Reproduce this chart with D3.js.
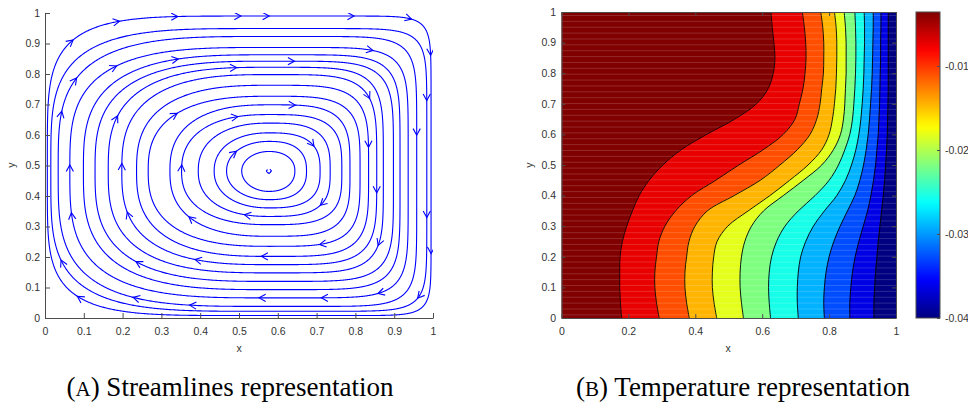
<!DOCTYPE html>
<html><head><meta charset="utf-8">
<script src="https://cdn.jsdelivr.net/npm/d3@7"></script>
<style>
html,body{margin:0;padding:0;background:#fff;}
svg{display:block;}
.tick text,.lbl{font-family:"Liberation Sans",Arial,Helvetica,sans-serif;font-size:10.5px;fill:#333;}
.cap{font-family:"Liberation Serif","Times New Roman",serif;fill:#000;}
</style></head><body>
<svg id="fig" width="968" height="407"></svg>
<script>
// ---------- Panel A: streamlines of the cavity vortex ----------
// Each closed streamline is described by where it crosses the horizontal
// and vertical lines through the vortex core.
const vortexCore = [0.577, 0.482];
const loopLeft   = [0.507, 0.468, 0.436, 0.395, 0.352, 0.322, 0.266, 0.236, 0.198, 0.163, 0.129, 0.099, 0.064, 0.034, 0.015, 0.006];
const loopRight  = [0.644, 0.674, 0.709, 0.735, 0.765, 0.786, 0.812, 0.834, 0.855, 0.872, 0.898, 0.915, 0.936, 0.958, 0.984, 0.995];
const loopTop    = [0.546, 0.579, 0.607, 0.639, 0.667, 0.699, 0.727, 0.763, 0.798, 0.822, 0.842, 0.863, 0.887, 0.923, 0.949, 0.990];
const loopBottom = [0.415, 0.388, 0.361, 0.333, 0.306, 0.268, 0.235, 0.202, 0.175, 0.148, 0.120, 0.093, 0.066, 0.038, 0.022, 0.008];
// corner sharpness of each loop on its west (left) and east (right) halves
const loopSquarenessWest = [2.0, 2.1, 2.2, 2.3, 2.4, 2.5, 2.6, 2.7, 2.8, 2.9, 3.0, 3.1, 3.3, 3.5, 3.9, 4.8];
const loopSquarenessEast = [2.2, 2.5, 2.8, 3.1, 3.4, 3.7, 4.0, 4.3, 4.6, 5.0, 5.4, 5.9, 6.5, 7.5, 9.0, 12.0];

// Flow-direction arrowheads (approximate positions along the streamlines)
const arrowX = [0.043,0.193,0.343,0.495,0.639,0.794,0.946,0.992,
                0.072,0.188,0.343,0.495,0.639,0.843,
                0.052,0.198,0.343,0.495,0.644,0.830,0.979,
                0.064,0.201,0.353,0.495,0.691,0.830,0.985,
                0.064,0.206,0.379,0.515,0.704,0.851,0.992,
                0.052,0.240,0.387,0.559,0.709,0.856,0.992,
                0.072,0.227,0.374,0.559,0.709,0.858,0.966];
const arrowY = [0.957,0.977,0.993,0.997,0.997,0.997,0.987,0.862,
                0.797,0.820,0.843,0.816,0.836,0.862,
                0.675,0.656,0.666,0.672,0.698,0.715,0.715,
                0.492,0.508,0.502,0.544,0.561,0.561,0.561,
                0.344,0.344,0.344,0.348,0.377,0.413,0.364,
                0.197,0.197,0.197,0.200,0.233,0.239,0.213,
                0.049,0.072,0.049,0.066,0.075,0.082,0.059];

const axisTicksA = [0,0.1,0.2,0.3,0.4,0.5,0.6,0.7,0.8,0.9,1];

// ---------- Panel B: temperature field ----------
// Isotherm positions x(y), sampled every 0.05 in y (from left/hot to right/cold)
const contourY  = [0,0.05,0.1,0.15,0.2,0.25,0.3,0.35,0.4,0.45,0.5,0.55,0.6,0.65,0.7,0.75,0.8,0.85,0.9,0.95,1];
const contour1  = [0.180,0.176,0.174,0.174,0.175,0.182,0.195,0.212,0.232,0.262,0.303,0.358,0.434,0.518,0.583,0.618,0.633,0.638,0.635,0.630,0.626];
const contour2  = [0.292,0.284,0.279,0.279,0.284,0.291,0.309,0.341,0.389,0.461,0.530,0.603,0.663,0.698,0.711,0.722,0.728,0.731,0.730,0.726,0.720];
const contour3  = [0.382,0.374,0.369,0.369,0.374,0.381,0.399,0.436,0.516,0.594,0.653,0.705,0.743,0.763,0.773,0.778,0.783,0.784,0.784,0.781,0.775];
const contour4  = [0.464,0.456,0.451,0.451,0.455,0.465,0.497,0.558,0.623,0.682,0.737,0.778,0.800,0.810,0.816,0.820,0.822,0.823,0.823,0.821,0.816];
const contour5  = [0.544,0.538,0.534,0.534,0.538,0.548,0.568,0.604,0.663,0.723,0.778,0.813,0.834,0.843,0.847,0.849,0.851,0.851,0.851,0.849,0.845];
const contour6  = [0.625,0.621,0.619,0.621,0.628,0.643,0.668,0.708,0.758,0.800,0.828,0.847,0.862,0.870,0.874,0.877,0.879,0.880,0.880,0.879,0.877];
const contour7  = [0.708,0.705,0.705,0.708,0.715,0.730,0.753,0.786,0.823,0.849,0.867,0.880,0.889,0.895,0.899,0.902,0.904,0.905,0.906,0.906,0.905];
const contour8  = [0.786,0.784,0.786,0.791,0.800,0.814,0.833,0.855,0.877,0.892,0.903,0.911,0.917,0.921,0.924,0.927,0.929,0.930,0.931,0.932,0.932];
const contour9  = [0.862,0.862,0.865,0.870,0.878,0.889,0.902,0.915,0.925,0.933,0.939,0.943,0.947,0.949,0.951,0.952,0.953,0.954,0.954,0.955,0.955];
const contour10 = [0.934,0.934,0.936,0.939,0.943,0.947,0.952,0.957,0.962,0.966,0.969,0.972,0.974,0.975,0.976,0.977,0.977,0.977,0.977,0.977,0.977];

// Filled level of each band, from the hot (left) band to the cold (right) band
const bandLevels = [-0.0036,-0.0073,-0.0109,-0.0146,-0.0182,-0.0218,-0.0255,-0.0291,-0.0327,-0.0364,-0.0400];
const tempRange  = [-0.0400, -0.00357];
const colorbarTicks = [-0.04,-0.03,-0.02,-0.01];
const axisTicksBx = [0,0.2,0.4,0.6,0.8,1];
const axisTicksBy = [0,0.1,0.2,0.3,0.4,0.5,0.6,0.7,0.8,0.9,1];

// ---------- drawing ----------
const svg = d3.select("#fig");
const axisGrey = "#4d4d4d";
const fmtTick = d3.format("~g");

function jet(t) {
  const c = v => Math.max(0, Math.min(1, v));
  const r = c(1.5 - Math.abs(4 * t - 3)), g = c(1.5 - Math.abs(4 * t - 2)), b = c(1.5 - Math.abs(4 * t - 1));
  return d3.rgb(r * 255, g * 255, b * 255).formatHex();
}

// Panel A
const xA = d3.scaleLinear([0, 1], [45, 433]);
const yA = d3.scaleLinear([0, 1], [318, 13]);

svg.append("clipPath").attr("id", "clipA").append("rect")
  .attr("x", xA(0)).attr("y", yA(1)).attr("width", xA(1) - xA(0)).attr("height", yA(0) - yA(1));

function loopPoints(i) {
  const [cx, cy] = vortexCore;
  const pts = [];
  const N = 900;
  for (let k = 0; k < N; k++) {
    const t = (k / N) * 2 * Math.PI;
    const c = Math.cos(t), s = Math.sin(t);
    const n = c >= 0 ? loopSquarenessEast[i] : loopSquarenessWest[i];
    const a = c >= 0 ? loopRight[i] - cx : cx - loopLeft[i];
    const b = s >= 0 ? loopTop[i] - cy : cy - loopBottom[i];
    pts.push([xA(cx + a * Math.sign(c) * Math.pow(Math.abs(c), 2 / n)),
              yA(cy + b * Math.sign(s) * Math.pow(Math.abs(s), 2 / n))]);
  }
  return pts;
}
const loops = loopLeft.map((_, i) => loopPoints(i));

const gA = svg.append("g").attr("clip-path", "url(#clipA)");
gA.selectAll("path.loop").data(loops).join("path")
  .attr("class", "loop")
  .attr("d", d3.line().curve(d3.curveLinearClosed))
  .attr("fill", "none").attr("stroke", "#0000ff").attr("stroke-width", 1.1);

// tiny core spiral
const [coreX, coreY] = vortexCore;
gA.append("path")
  .attr("d", d3.arc()({innerRadius: 2.2, outerRadius: 2.2, startAngle: 0.6, endAngle: 5.4}))
  .attr("transform", `translate(${xA(coreX)},${yA(coreY)})`)
  .attr("fill", "none").attr("stroke", "#0000ff").attr("stroke-width", 1);

// arrowheads snapped to the nearest streamline, oriented with the (clockwise) flow
const arrows = arrowX.map((ax, j) => {
  const px = xA(ax), py = yA(arrowY[j]);
  let best = null, bd = Infinity;
  loops.forEach(L => L.forEach((p, k) => {
    const d = (p[0] - px) ** 2 + (p[1] - py) ** 2;
    if (d < bd) { bd = d; best = {L, k}; }
  }));
  const L = best.L, N = L.length, k = best.k;
  const p0 = L[(k + 6) % N], p1 = L[(k - 6 + N) % N];
  const ang = Math.atan2(p1[1] - p0[1], p1[0] - p0[0]);
  return {x: L[k][0], y: L[k][1], ang};
});
const headLen = 7.5, headSpread = 0.5;
gA.selectAll("path.arrow").data(arrows).join("path")
  .attr("class", "arrow")
  .attr("d", a => {
    const b1 = a.ang + Math.PI - headSpread, b2 = a.ang + Math.PI + headSpread;
    return `M${a.x + headLen * Math.cos(b1)},${a.y + headLen * Math.sin(b1)}L${a.x},${a.y}L${a.x + headLen * Math.cos(b2)},${a.y + headLen * Math.sin(b2)}`;
  })
  .attr("fill", "none").attr("stroke", "#0000ff").attr("stroke-width", 1.1);

function styleAxis(g) {
  g.select(".domain").attr("stroke", axisGrey).attr("stroke-width", 1);
  g.selectAll(".tick line").attr("stroke", axisGrey);
}
svg.append("g").attr("transform", `translate(0,${yA(0)})`)
  .call(d3.axisBottom(xA).tickValues(axisTicksA).tickFormat(fmtTick).tickSize(-5).tickSizeOuter(0).tickPadding(10))
  .call(styleAxis);
svg.append("g").attr("transform", `translate(${xA(0)},0)`)
  .call(d3.axisLeft(yA).tickValues(axisTicksA).tickFormat(fmtTick).tickSize(-5).tickSizeOuter(0).tickPadding(5))
  .call(styleAxis);
svg.append("text").attr("class", "lbl").attr("x", 239).attr("y", 352).attr("text-anchor", "middle").text("x");
svg.append("text").attr("class", "lbl").attr("transform", "translate(15,165) rotate(-90)").attr("text-anchor", "middle").text("y");

// Panel B
const xB = d3.scaleLinear([0, 1], [561.5, 896]);
const yB = d3.scaleLinear([0, 1], [318, 12]);
const cB = d3.scaleLinear(tempRange, [0, 1]);

svg.append("clipPath").attr("id", "clipB").append("rect")
  .attr("x", xB(0)).attr("y", yB(1)).attr("width", xB(1) - xB(0)).attr("height", yB(0) - yB(1));
const gB = svg.append("g").attr("clip-path", "url(#clipB)");

const isoCurve = d3.curveCatmullRom.alpha(0.5);
const isolines = [contour1, contour2, contour3, contour4, contour5, contour6, contour7, contour8, contour9, contour10];
const bands = bandLevels.map((lvl, j) => ({
  lvl,
  left:  j === 0 ? contourY.map(() => 0) : isolines[j - 1],
  right: j === isolines.length ? contourY.map(() => 1) : isolines[j]
}));
const bandArea = b => d3.area()
  .curve(isoCurve)
  .y((y) => yB(y))
  .x0((y, i) => xB(b.left[i]))
  .x1((y, i) => xB(b.right[i]))(contourY);
gB.selectAll("path.band").data(bands).join("path")
  .attr("class", "band")
  .attr("d", bandArea)
  .attr("fill", b => jet(cB(b.lvl)))
  .attr("stroke", b => jet(cB(b.lvl))).attr("stroke-width", 0.6);

// faint horizontal raster seams of the exported surface
gB.selectAll("line.seam").data(d3.range(yB(1) + 3.5, yB(0), 5.87)).join("line")
  .attr("class", "seam")
  .attr("x1", xB(0)).attr("x2", xB(1)).attr("y1", d => d).attr("y2", d => d)
  .attr("stroke", "#fff").attr("stroke-opacity", 0.16).attr("stroke-width", 1);

gB.selectAll("path.iso").data(isolines).join("path")
  .attr("class", "iso")
  .attr("d", xs => d3.line().curve(isoCurve).x((y, i) => xB(xs[i])).y(y => yB(y))(contourY))
  .attr("fill", "none").attr("stroke", "#000").attr("stroke-width", 0.9);

svg.append("g").attr("transform", `translate(0,${yB(0)})`)
  .call(d3.axisBottom(xB).tickValues(axisTicksBx).tickFormat(fmtTick).tickSize(-4).tickSizeOuter(0).tickPadding(10))
  .call(styleAxis);
svg.append("g").attr("transform", `translate(${xB(0)},0)`)
  .call(d3.axisLeft(yB).tickValues(axisTicksBy).tickFormat(fmtTick).tickSize(-4).tickSizeOuter(0).tickPadding(5.5))
  .call(styleAxis);
svg.append("g").attr("transform", `translate(0,${yB(1)})`)
  .call(d3.axisTop(xB).tickValues(axisTicksBx).tickSize(-4).tickSizeOuter(0).tickFormat(""))
  .call(styleAxis);
svg.append("g").attr("transform", `translate(${xB(1)},0)`)
  .call(d3.axisRight(yB).tickValues(axisTicksBy).tickSize(-4).tickSizeOuter(0).tickFormat(""))
  .call(styleAxis);
svg.append("text").attr("class", "lbl").attr("x", 728).attr("y", 352).attr("text-anchor", "middle").text("x");
svg.append("text").attr("class", "lbl").attr("transform", "translate(533,165) rotate(-90)").attr("text-anchor", "middle").text("y");

// Colorbar
const cbX0 = 916, cbX1 = 940;
const cY = d3.scaleLinear(tempRange, [318, 12]);
const grad = svg.append("defs").append("linearGradient").attr("id", "jetGrad")
  .attr("x1", 0).attr("y1", 1).attr("x2", 0).attr("y2", 0);
grad.selectAll("stop").data(d3.range(0, 1.0001, 0.02)).join("stop")
  .attr("offset", t => t).attr("stop-color", t => jet(t));
svg.append("rect").attr("x", cbX0).attr("y", cY(tempRange[1])).attr("width", cbX1 - cbX0)
  .attr("height", cY(tempRange[0]) - cY(tempRange[1])).attr("fill", "url(#jetGrad)")
  .attr("stroke", axisGrey).attr("stroke-width", 1);
svg.append("g").attr("transform", `translate(${cbX1},0)`)
  .call(d3.axisRight(cY).tickValues(colorbarTicks).tickSize(-3).tickSizeOuter(0).tickPadding(5)
    .tickFormat(d => d3.format(".2f")(d).replace("−", "-")))
  .call(g => g.select(".domain").remove())
  .call(g => g.selectAll(".tick line").attr("stroke", axisGrey));

// Captions
function caption(x, letter, rest) {
  const t = svg.append("text").attr("class", "cap").attr("x", x).attr("y", 396)
    .attr("text-anchor", "middle").attr("font-size", 27);
  t.append("tspan").text("(");
  t.append("tspan").attr("font-size", 21).text(letter);
  t.append("tspan").text(") " + rest);
}
caption(230, "A", "Streamlines representation");
caption(743, "B", "Temperature representation");
</script>
</body></html>
